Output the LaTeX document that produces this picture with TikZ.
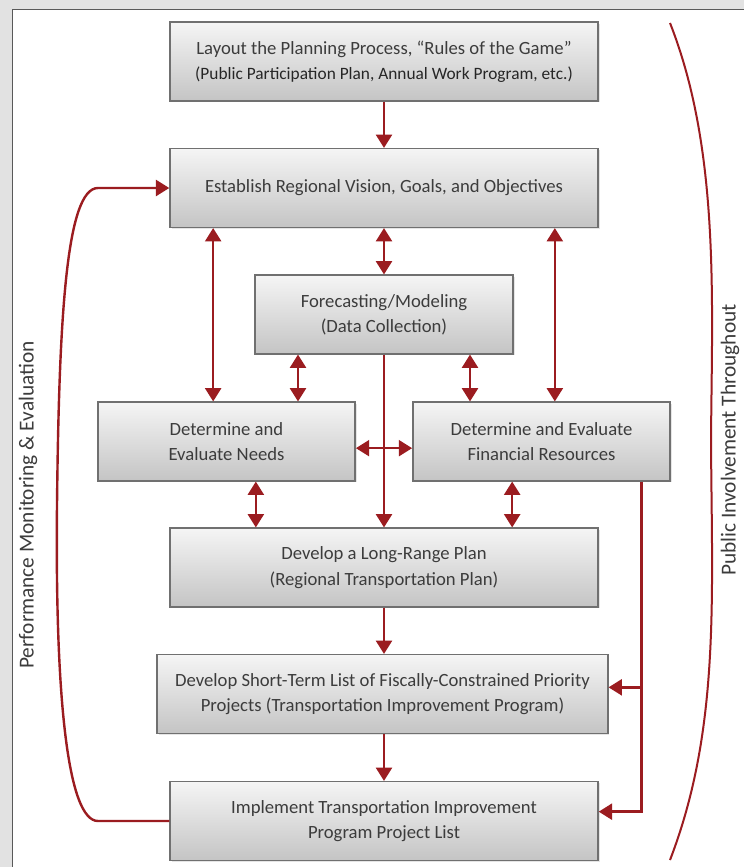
\documentclass[tikz,border=0pt]{standalone}
\usepackage{fontspec}
\setmainfont{Carlito}
\usetikzlibrary{arrows.meta, calc, shadows}
\definecolor{flowred}{RGB}{155, 28, 32}
\definecolor{boxedge}{RGB}{112, 112, 112}
\definecolor{boxtext}{RGB}{60, 60, 60}
\definecolor{pagegray}{RGB}{226, 226, 226}

\begin{document}
\begin{tikzpicture}[x=0.75pt, y=-0.75pt,
  stepbox/.style={draw=boxedge, line width=1.1pt, top color=gray!8, bottom color=gray!46,
    text=boxtext, align=center, minimum height=59pt, inner sep=2pt,
    font=\fontsize{14}{19}\selectfont,
    drop shadow={shadow xshift=1.2pt, shadow yshift=-1.2pt, opacity=0.2}},
  flow/.style={draw=flowred, line width=1.8pt, -{Triangle[length=10pt, width=12pt]}},
  both/.style={flow, {Triangle[length=10pt, width=12pt]}-{Triangle[length=10pt, width=12pt]}},
  side/.style={text=boxtext, rotate=90, font=\fontsize{16}{18}\selectfont}]

  % frame
  \useasboundingbox (0,0) rectangle (744,867);
  \fill[pagegray] (0,0) rectangle (744,867);
  \fill[white] (12,9) rectangle (744,867);
  \draw[black!65, line width=0.7pt] (12,867) -- (12,9) -- (744,9);

  % main steps
  \node[stepbox, minimum width=321pt] (layout) at (384,61.5) {Layout the Planning Process, “Rules of the Game”\\
    {\fontsize{13}{15}\selectfont\color{black!85}(Public Participation Plan, Annual Work Program, etc.)}};
  \node[stepbox, minimum width=321pt] (vision) at (384,188) {Establish Regional Vision, Goals, and Objectives};
  \node[stepbox, minimum width=193.5pt] (forecast) at (384,314.5) {Forecasting/Modeling\\(Data Collection)};
  \node[stepbox, minimum width=193pt] (needs) at (226.5,441.5) {Determine and\\Evaluate Needs};
  \node[stepbox, minimum width=193pt] (finance) at (541.5,441.5) {Determine and Evaluate\\Financial Resources};
  \node[stepbox, minimum width=321pt] (lrp) at (384,567.5) {Develop a Long-Range Plan\\(Regional Transportation Plan)};
  \node[stepbox, minimum width=338pt] (stip) at (382.5,694) {Develop Short-Term List of Fiscally-Constrained Priority\\Projects (Transportation Improvement Program)};
  \node[stepbox, minimum width=321pt] (impl) at (384,821) {Implement Transportation Improvement\\Program Project List};

  % side labels
  \node[side] (pme) at (28,505) {Performance Monitoring \& Evaluation};
  \node[side] (pit) at (730,440) {Public Involvement Throughout};

  % flow down the middle
  \draw[flow] (layout) -- (vision);
  \draw[flow] (forecast) -- (lrp);
  \draw[flow] (lrp) -- (lrp |- stip.north);
  \draw[flow] (lrp |- stip.south) -- (lrp |- impl.north);

  % two-way links
  \coordinate (vn) at ([xshift=-10pt]needs.north);
  \coordinate (vf) at ([xshift=10pt]finance.north);
  \coordinate (fn) at ([xshift=-64.5pt]forecast.south);
  \coordinate (ff) at ([xshift=64.5pt]forecast.south);
  \coordinate (nl) at ([xshift=22pt]needs.south);
  \coordinate (fl) at ([xshift=-22pt]finance.south);
  \draw[both] (vision) -- (forecast);
  \draw[both] (vn) -- (vn |- vision.south);
  \draw[both] (vf) -- (vf |- vision.south);
  \draw[both] (fn) -- (fn |- needs.north);
  \draw[both] (ff) -- (ff |- finance.north);
  \draw[both] ([yshift=-5pt]needs.east) -- ([yshift=-5pt]finance.west);
  \draw[both] (nl) -- (nl |- lrp.north);
  \draw[both] (fl) -- (fl |- lrp.north);

  % resources feed the short list and the project list
  \coordinate (fr) at ([xshift=75pt]finance.south);
  \coordinate (s1) at ([yshift=5pt]stip.east);
  \coordinate (i1) at ([yshift=7pt]impl.east);
  \draw[flow] (fr) |- (i1);
  \draw[flow] (fr |- s1) -- (s1);

  % monitoring loop back to the vision
  \draw[flow] (impl.west) -- (98,821) .. controls (68,821) and (55,700) .. (57,505)
    .. controls (59,320) and (66,188) .. (98,188) -- (vision.west);

  % public involvement bracket
  \draw[flowred, line width=1.5pt] (670,23) .. controls (720,150) and (712,300) .. (711,441)
    .. controls (712,600) and (720,730) .. (670,860);
\end{tikzpicture}
\end{document}
